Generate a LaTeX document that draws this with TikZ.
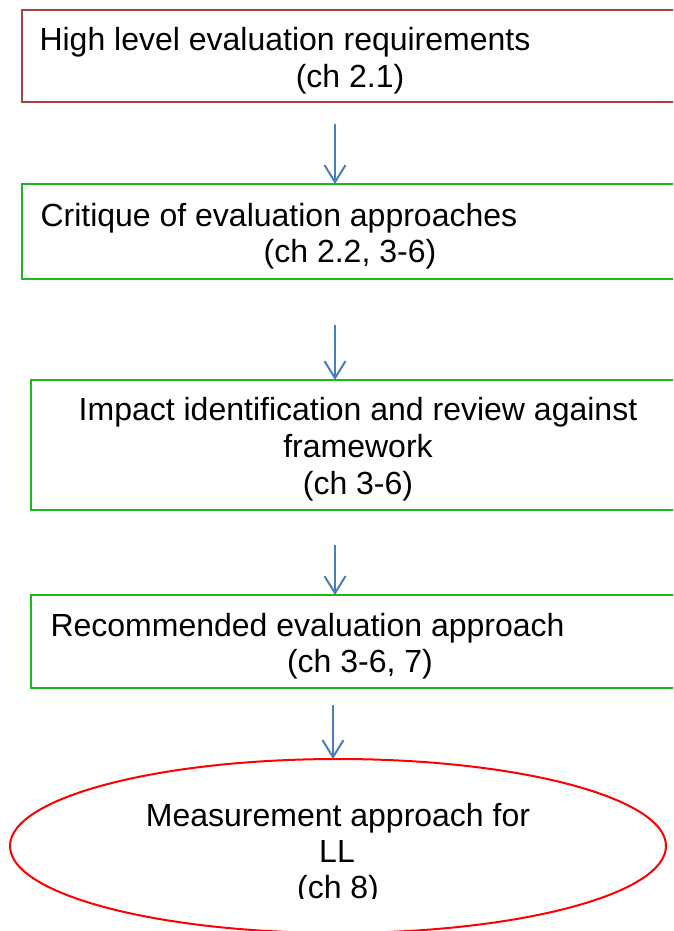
\documentclass[tikz,border=0pt]{standalone}
\usepackage{fontspec}
\setmainfont{Liberation Sans}
\usetikzlibrary{arrows.meta,shapes.geometric}

\definecolor{boxred}{RGB}{168,66,64}
\definecolor{boxgreen}{RGB}{28,184,28}
\definecolor{arrowblue}{RGB}{74,126,187}
\definecolor{ovalred}{RGB}{255,0,0}

\tikzset{
  stagebox/.style={draw=boxgreen, line width=2pt, rectangle, anchor=north west,
    inner sep=0pt, outer sep=0pt, minimum width=700pt},
  firstbox/.style={stagebox, draw=boxred},
  endoval/.style={draw=ovalred, line width=2pt, ellipse, inner sep=0pt, outer sep=0pt,
    minimum width=656pt, minimum height=174pt},
  txt/.style={inner sep=0pt, outer sep=0pt, font=\fontsize{32}{36}\selectfont},
  flow/.style={draw=arrowblue, line width=2pt,
    -{Straight Barb[length=17pt, width=21pt, line width=2pt]}},
}

\begin{document}
\begin{tikzpicture}[x=1pt, y=-1pt]
  \useasboundingbox[fill=white] (0,0) rectangle (673,931);
  \begin{scope}
    \clip (0,0) rectangle (673,931);

    % stage boxes (right edges run past the frame)
    \node[firstbox, minimum height=92pt] (b1) at (22,10) {};
    \node[stagebox, minimum height=95pt] (b2) at (22,184) {};
    \node[stagebox, minimum height=130pt] (b3) at (31,380) {};
    \node[stagebox, minimum height=93pt] (b4) at (31,595) {};
    \node[endoval] (e5) at (338,846) {};

    % box texts
    \node[txt, anchor=base west] (t1a) at (39.5,51) {High level evaluation requirements};
    \node[txt, anchor=base] (t1b) at (350,88) {(ch 2.1)};
    \node[txt, anchor=base west] (t2a) at (40.5,226) {Critique of evaluation approaches};
    \node[txt, anchor=base] (t2b) at (350,262) {(ch 2.2, 3-6)};
    \node[txt, anchor=base] (t3a) at (358,420) {Impact identification and review against};
    \node[txt, anchor=base] (t3b) at (358,457) {framework};
    \node[txt, anchor=base] (t3c) at (358,494) {(ch 3-6)};
    \node[txt, anchor=base west] (t4a) at (50.5,636) {Recommended evaluation approach};
    \node[txt, anchor=base] (t4b) at (360,672) {(ch 3-6, 7)};
    \node[txt, anchor=base] (t5a) at (338,826) {Measurement approach for};
    \node[txt, anchor=base] (t5b) at (337,862) {LL};
    \begin{scope}
      \clip (0,0) rectangle (673,898);
      \node[txt, anchor=base] (t5c) at (338,898) {(ch 8)};
    \end{scope}

    % arrow tails
    \coordinate (a1) at (335,124);
    \coordinate (a2) at (335,325);
    \coordinate (a3) at (335,545);
    \coordinate (a4) at (333,705);

    \draw[flow] (a1) -- (a1 |- b2.north);
    \draw[flow] (a2) -- (a2 |- b3.north);
    \draw[flow] (a3) -- (a3 |- b4.north);
    \draw[flow] (a4) -- (a4 |- e5.north);
  \end{scope}
\end{tikzpicture}
\end{document}
